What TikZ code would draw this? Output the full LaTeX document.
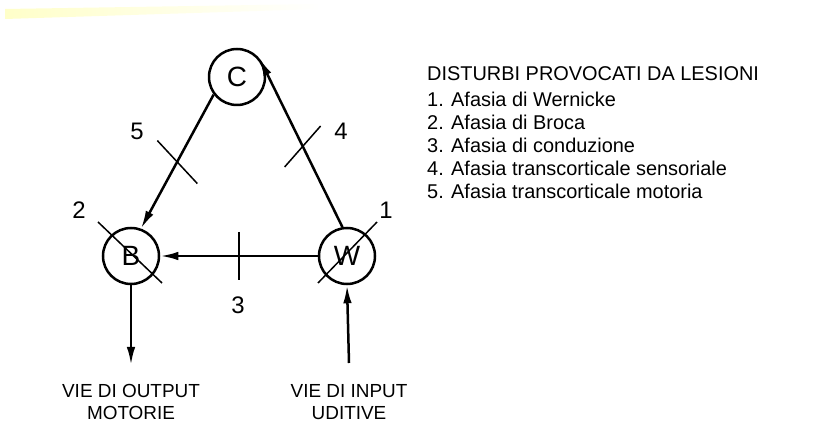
\documentclass[tikz,border=0pt]{standalone}
\usepackage{fontspec}
\setmainfont{Liberation Sans}
\usepackage{tikz}
\usetikzlibrary{arrows.meta, positioning, calc}
\tikzset{
  area_node/.style={circle, draw=black, line width=2.5bp, minimum size=56bp, inner sep=0pt, font=\fontsize{28}{28}\selectfont},
  path_arrow/.style={-{Latex[length=18bp, width=8.5bp]}, line width=2.5bp, black},
  lesion_mark/.style={-, line width=1.5bp, black},
  lesion_label/.style={font=\fontsize{24}{24}\selectfont},
  route_label/.style={align=center, font=\fontsize{19}{22}\selectfont},
  legend_text/.style={align=left, anchor=west, inner sep=0pt, font=\fontsize{20}{23}\selectfont}
}

\begin{document}
\begin{tikzpicture}[x=1bp, y=-1bp]
      % --- Page ---
      \useasboundingbox (0,0) rectangle (816,436);
      \fill[white] (0,0) rectangle (816,436);
      \shade[left color=yellow!30, right color=white, opacity=0.7] (5,9) -- (320,4) -- (320,9) -- (5,19) -- cycle;

      % --- Brain areas ---
      \node[area_node] (cortex) at (237,77) {C};
      \node[area_node] (broca) at (131,256) {B};
      \node[area_node] (wernicke) at (347,256) {W};

      % --- Connections ---
      \draw[path_arrow] (cortex.217) -- (broca.70) coordinate[pos=0.5] (mid_cb);
      \draw[path_arrow] (wernicke.99) -- (cortex.40) coordinate[pos=0.48] (mid_wc);
      \draw[path_arrow] (wernicke.west) -- (broca.east) coordinate[pos=0.5] (mid_wb);

      % --- Input / output routes ---
      \coordinate (motor_end) at (131,365);
      \coordinate (audio_start) at (349,363);
      \draw[path_arrow] (broca.south) -- (motor_end);
      \draw[path_arrow] (audio_start) -- (wernicke.south);
      \node[route_label, below=16bp of motor_end] (motor) {VIE DI OUTPUT\\MOTORIE};
      \node[route_label, below=18bp of audio_start] (audio) {VIE DI INPUT\\UDITIVE};

      % --- Lesion marks ---
      \draw[lesion_mark] ($(mid_cb)+(-20,-21)$) -- ($(mid_cb)+(20,22)$);
      \draw[lesion_mark] ($(mid_wc)+(-18,21)$) -- ($(mid_wc)+(18,-20)$);
      \draw[lesion_mark] ($(mid_wb)+(0,-24)$) -- ($(mid_wb)+(0,24)$);
      \draw[lesion_mark] ($(broca)+(-33,-34)$) -- ($(broca)+(31,27)$);
      \draw[lesion_mark] ($(wernicke)+(-29,27)$) -- ($(wernicke)+(30,-34)$);

      % --- Lesion numbers ---
      \node[lesion_label] (num5) at (137,131) {5};
      \node[lesion_label] (num4) at (341,131) {4};
      \node[lesion_label] (num2) at (79,210) {2};
      \node[lesion_label] (num1) at (386,210) {1};
      \node[lesion_label] (num3) at (238,305) {3};

      % --- Legend ---
      \node[legend_text] (legend_title) at (427,74) {DISTURBI PROVOCATI DA LESIONI};
      \node[legend_text, anchor=north west] (legend_list) at (427,92)
        {1. Afasia di Wernicke\\
         2. Afasia di Broca\\
         3. Afasia di conduzione\\
         4. Afasia transcorticale sensoriale\\
         5. Afasia transcorticale motoria};
    \end{tikzpicture}
\end{document}
